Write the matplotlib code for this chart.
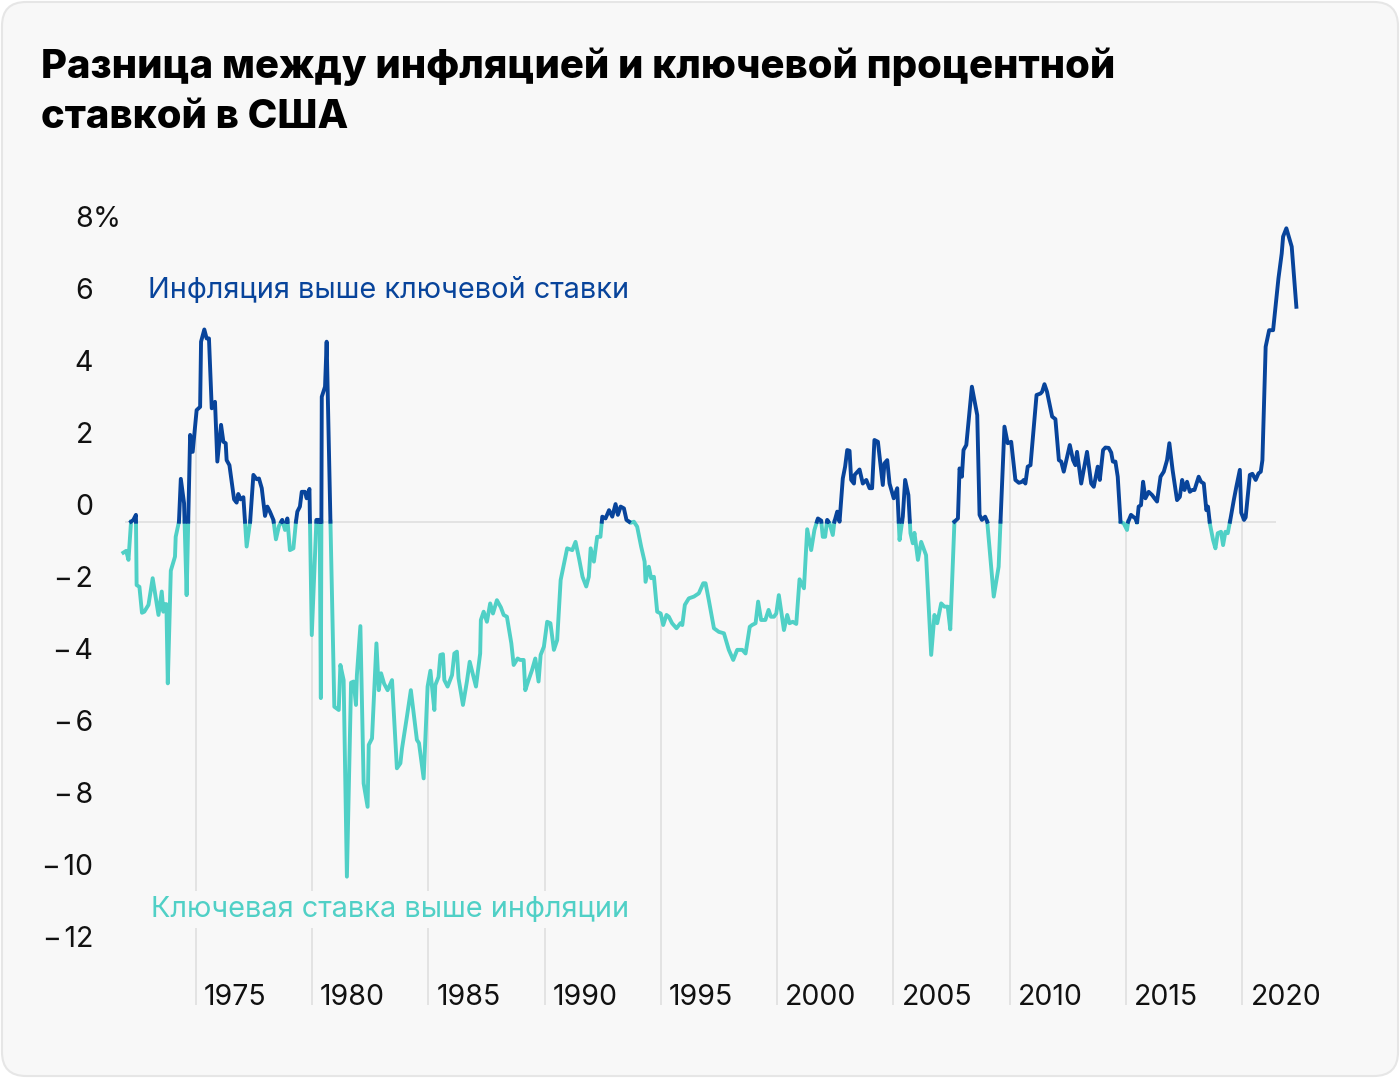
import numpy as np
import matplotlib
matplotlib.use('Agg')
import matplotlib.pyplot as plt
from matplotlib.patches import FancyBboxPatch
from matplotlib.transforms import IdentityTransform

plt.rcParams['font.family'] = ['Inter', 'DejaVu Sans']

TITLE = ['Разница между инфляцией и ключевой процентной', 'ставкой в США']
LABEL_ABOVE = 'Инфляция выше ключевой ставки'
LABEL_BELOW = 'Ключевая ставка выше инфляции'

# inflation minus key rate, percentage points
years = [
    1971.89, 1972.01, 1972.11, 1972.22, 1972.32, 1972.43, 1972.46, 1972.58, 1972.69, 1972.79,
    1972.97, 1973.15, 1973.40, 1973.54, 1973.61, 1973.68, 1973.74, 1973.80, 1973.93, 1974.11,
    1974.14, 1974.28, 1974.36, 1974.50, 1974.61, 1974.76, 1974.87, 1975.04, 1975.19, 1975.23,
    1975.37, 1975.47, 1975.57, 1975.69, 1975.83, 1975.93, 1976.09, 1976.19, 1976.29, 1976.33,
    1976.45, 1976.65, 1976.76, 1976.83, 1976.93, 1977.05, 1977.19, 1977.34, 1977.48, 1977.62,
    1977.72, 1977.84, 1977.98, 1978.08, 1978.19, 1978.34, 1978.45, 1978.58, 1978.72, 1978.84,
    1978.94, 1979.05, 1979.20, 1979.31, 1979.37, 1979.48, 1979.56, 1979.70, 1979.77, 1979.89,
    1979.99, 1980.19, 1980.33, 1980.38, 1980.42, 1980.56, 1980.63, 1980.96, 1981.15, 1981.22,
    1981.36, 1981.50, 1981.68, 1981.79, 1981.89, 1981.93, 1982.08, 1982.22, 1982.39, 1982.44,
    1982.58, 1982.77, 1982.87, 1982.97, 1983.10, 1983.25, 1983.44, 1983.65, 1983.80, 1983.87,
    1984.08, 1984.25, 1984.51, 1984.60, 1984.80, 1984.97, 1985.09, 1985.26, 1985.30, 1985.44,
    1985.52, 1985.63, 1985.69, 1985.83, 1986.02, 1986.12, 1986.23, 1986.30, 1986.49, 1986.66,
    1986.78, 1987.05, 1987.23, 1987.26, 1987.38, 1987.52, 1987.66, 1987.78, 1987.95, 1988.12,
    1988.24, 1988.38, 1988.57, 1988.67, 1988.84, 1988.95, 1989.10, 1989.17, 1989.31, 1989.46,
    1989.60, 1989.74, 1989.83, 1989.97, 1990.11, 1990.25, 1990.40, 1990.54, 1990.69, 1990.97,
    1991.19, 1991.33, 1991.48, 1991.63, 1991.79, 1991.90, 1991.98, 1992.12, 1992.26, 1992.40,
    1992.48, 1992.62, 1992.77, 1992.91, 1993.05, 1993.15, 1993.27, 1993.41, 1993.52, 1993.70,
    1993.84, 1993.98, 1994.15, 1994.30, 1994.34, 1994.48, 1994.58, 1994.70, 1994.84, 1994.99,
    1995.10, 1995.24, 1995.34, 1995.48, 1995.67, 1995.84, 1995.92, 1996.03, 1996.20, 1996.42,
    1996.63, 1996.82, 1996.92, 1997.06, 1997.28, 1997.49, 1997.71, 1997.92, 1998.11, 1998.28,
    1998.50, 1998.64, 1998.82, 1998.92, 1999.07, 1999.18, 1999.31, 1999.49, 1999.63, 1999.73,
    1999.86, 1999.96, 2000.07, 2000.29, 2000.43, 2000.53, 2000.67, 2000.82, 2000.96, 2001.15,
    2001.29, 2001.46, 2001.60, 2001.75, 2001.89, 2001.96, 2002.06, 2002.15, 2002.25, 2002.39,
    2002.46, 2002.58, 2002.68, 2002.82, 2002.92, 2003.01, 2003.11, 2003.18, 2003.30, 2003.33,
    2003.54, 2003.68, 2003.83, 2003.97, 2004.08, 2004.18, 2004.33, 2004.54, 2004.61, 2004.73,
    2004.83, 2005.01, 2005.16, 2005.26, 2005.40, 2005.50, 2005.64, 2005.73, 2005.83, 2005.90,
    2006.05, 2006.19, 2006.40, 2006.62, 2006.76, 2006.88, 2007.05, 2007.19, 2007.33, 2007.44,
    2007.62, 2007.77, 2007.84, 2007.94, 2008.01, 2008.13, 2008.37, 2008.60, 2008.70, 2008.80,
    2008.94, 2009.03, 2009.31, 2009.52, 2009.60, 2009.77, 2009.91, 2010.06, 2010.24, 2010.39,
    2010.53, 2010.60, 2010.67, 2010.77, 2010.89, 2011.00, 2011.15, 2011.32, 2011.39, 2011.49,
    2011.60, 2011.82, 2011.96, 2012.11, 2012.21, 2012.32, 2012.58, 2012.72, 2012.82, 2012.89,
    2013.07, 2013.15, 2013.32, 2013.50, 2013.61, 2013.78, 2013.87, 2014.01, 2014.11, 2014.25,
    2014.36, 2014.43, 2014.54, 2014.64, 2014.76, 2014.90, 2015.04, 2015.09, 2015.21, 2015.30,
    2015.40, 2015.47, 2015.54, 2015.64, 2015.73, 2015.83, 2015.97, 2016.12, 2016.22, 2016.33,
    2016.48, 2016.62, 2016.76, 2016.86, 2017.00, 2017.19, 2017.31, 2017.41, 2017.51, 2017.62,
    2017.74, 2017.84, 2017.94, 2018.12, 2018.22, 2018.34, 2018.45, 2018.52, 2018.60, 2018.74,
    2018.84, 2018.94, 2019.08, 2019.17, 2019.27, 2019.37, 2019.48, 2019.63, 2019.74, 2019.89,
    2019.95, 2020.07, 2020.14, 2020.32, 2020.43, 2020.57, 2020.69, 2020.79, 2020.86, 2021.00,
    2021.15, 2021.32, 2021.55, 2021.69, 2021.75, 2021.89, 2022.12, 2022.32,
]
spread = [
    -0.86, -0.81, -1.06, 0.00, 0.05, 0.19, -1.76, -1.81, -2.53, -2.50,
    -2.31, -1.57, -2.59, -1.94, -2.50, -2.29, -2.29, -4.49, -1.36, -0.97,
    -0.42, 0.00, 1.19, 0.51, -2.04, 2.41, 1.94, 3.10, 3.19, 5.00,
    5.34, 5.09, 5.09, 3.15, 3.33, 1.67, 2.69, 2.22, 2.18, 1.71,
    1.57, 0.62, 0.53, 0.77, 0.62, 0.68, -0.69, 0.00, 1.30, 1.18,
    1.20, 0.93, 0.16, 0.42, 0.28, 0.05, -0.49, -0.12, 0.05, -0.23,
    0.09, -0.79, -0.74, 0.00, 0.28, 0.42, 0.83, 0.83, 0.65, 0.91,
    -3.15, 0.05, 0.05, -4.90, 3.47, 3.75, 5.00, -5.14, -5.23, -3.98,
    -4.40, -9.86, -4.47, -4.44, -5.09, -4.26, -2.90, -7.27, -7.92, -6.20,
    -6.02, -3.38, -4.68, -4.21, -4.50, -4.68, -4.40, -6.85, -6.71, -6.30,
    -5.42, -4.68, -6.06, -6.15, -7.13, -4.58, -4.14, -5.23, -4.54, -4.31,
    -3.70, -3.68, -4.40, -4.58, -4.26, -3.66, -3.61, -4.35, -5.09, -4.44,
    -3.89, -4.58, -3.66, -2.73, -2.50, -2.78, -2.27, -2.55, -2.18, -2.38,
    -2.59, -2.64, -3.38, -3.98, -3.80, -3.84, -3.84, -4.68, -4.40, -4.12,
    -3.80, -4.44, -3.70, -3.47, -2.78, -2.82, -3.56, -3.29, -1.62, -0.74,
    -0.79, -0.56, -1.02, -1.53, -1.80, -1.53, -0.74, -1.11, -0.42, -0.42,
    0.14, 0.09, 0.32, 0.14, 0.49, 0.19, 0.42, 0.37, 0.05, -0.03,
    0.00, -0.14, -0.69, -1.11, -1.67, -1.25, -1.57, -1.53, -2.50, -2.55,
    -2.87, -2.59, -2.64, -2.82, -2.96, -2.82, -2.87, -2.31, -2.13, -2.08,
    -1.99, -1.71, -1.71, -2.18, -2.96, -3.06, -3.10, -3.56, -3.84, -3.56,
    -3.56, -3.66, -2.92, -2.87, -2.82, -2.22, -2.73, -2.73, -2.45, -2.64,
    -2.64, -2.55, -2.04, -3.01, -2.59, -2.82, -2.78, -2.84, -1.60, -1.85,
    -0.21, -0.79, -0.23, 0.09, 0.03, -0.42, -0.42, 0.05, -0.05, -0.37,
    0.00, 0.28, 0.00, 1.20, 1.53, 1.99, 1.97, 1.16, 1.06, 1.30,
    1.45, 1.06, 1.16, 0.93, 0.93, 2.27, 2.22, 1.02, 1.62, 1.71,
    1.06, 0.65, 0.93, -0.51, 0.14, 1.16, 0.74, -0.32, -0.60, -0.31,
    -1.06, -0.56, -0.93, -3.70, -2.59, -2.82, -2.27, -2.36, -2.36, -2.99,
    0.00, 0.09, 1.48, 1.25, 1.99, 2.13, 3.75, 2.96, 0.19, 0.05,
    0.14, 0.00, -2.08, -1.25, 0.00, 2.64, 2.18, 2.22, 1.16, 1.08,
    1.11, 1.16, 1.06, 1.53, 1.57, 2.41, 3.52, 3.56, 3.61, 3.82,
    3.61, 2.92, 2.85, 1.71, 1.67, 1.39, 2.13, 1.71, 1.57, 1.94,
    1.06, 1.34, 1.94, 1.06, 0.97, 1.53, 1.16, 1.99, 2.06, 2.05,
    1.92, 1.67, 1.67, 1.25, 0.00, -0.05, -0.23, 0.00, 0.19, 0.14,
    0.09, -0.03, 0.42, 0.46, 1.11, 0.65, 0.83, 0.74, 0.65, 0.56,
    1.25, 1.39, 1.71, 2.18, 1.43, 0.60, 0.69, 1.16, 0.88, 1.11,
    0.83, 0.88, 0.88, 1.25, 1.11, 1.06, 0.32, 0.42, -0.05, -0.51,
    -0.74, -0.32, -0.28, -0.65, -0.28, -0.32, 0.05, 0.60, 0.97, 1.44,
    0.25, 0.05, 0.12, 1.30, 1.33, 1.16, 1.34, 1.39, 1.71, 4.86,
    5.32, 5.32, 6.76, 7.45, 7.92, 8.15, 7.64, 5.97,
]

tick_years = [1975, 1980, 1985, 1990, 1995, 2000, 2005, 2010, 2015, 2020]
y_ticks = [8, 6, 4, 2, 0, -2, -4, -6, -8, -10, -12]

BLUE = '#08449b'
TEAL = '#50d0c6'
GRID = '#dfdfdf'
BG = '#f8f8f8'

W, H = 1400, 1078
# pixel scale of the reference
PX_1980, PX_PER_YEAR = 312.0, 23.26
PY_ZERO, PX_PER_UNIT = 521.7, 36.0


def t_of(px):
    return 1980 + (px - PX_1980) / PX_PER_YEAR


def v_of(py):
    return (PY_ZERO - py) / PX_PER_UNIT


def split_at_zero(t, v):
    ts, vs = [t[0]], [v[0]]
    for i in range(1, len(t)):
        if v[i - 1] * v[i] < 0:
            tz = t[i - 1] + (t[i] - t[i - 1]) * v[i - 1] / (v[i - 1] - v[i])
            ts.append(tz)
            vs.append(0.0)
        ts.append(t[i])
        vs.append(v[i])
    return np.array(ts), np.array(vs)


fig = plt.figure(figsize=(W / 100, H / 100), dpi=100)
fig.patch.set_facecolor('white')
card = FancyBboxPatch((2, 2), W - 4, H - 4, boxstyle='round,pad=0,rounding_size=24',
                      transform=IdentityTransform(), fc=BG, ec='#e6e6e6', lw=1.5, zorder=-5)
fig.patches.append(card)

left_px, right_px, top_px, bottom_px = 100, 1320, 200, 1010
ax = fig.add_axes([left_px / W, 1 - bottom_px / H, (right_px - left_px) / W, (bottom_px - top_px) / H])
ax.set_xlim(t_of(left_px), t_of(right_px))
ax.set_ylim(v_of(bottom_px), v_of(top_px))
ax.axis('off')

t, v = split_at_zero(years, spread)
y_floor = v_of(1005)

# drop lines from the bottom to the curve at each tick year
ax.vlines(tick_years, y_floor, np.interp(tick_years, t, v), color=GRID, lw=1.2, zorder=1)
ax.hlines(0, t_of(125), t_of(1276), color=GRID, lw=1.2, zorder=1)

ax.plot(t, np.where(v <= 0, v, np.nan), color=TEAL, lw=2.8, zorder=3)
ax.plot(t, np.where(v >= 0, v, np.nan), color=BLUE, lw=2.8, zorder=3)

tick_fs = 20.5
for yr in tick_years:
    ax.text(yr + 8 / PX_PER_YEAR, y_floor, str(yr), fontsize=tick_fs, ha='left', va='baseline', color='#111111')

x_lab = t_of(93)
for yv in y_ticks:
    lab = str(yv).replace('-', '\u2212\u200a')
    ax.text(x_lab, yv + 7 / PX_PER_UNIT, lab, fontsize=tick_fs, ha='right', va='baseline',
            color='#111111', clip_on=False)
    if yv == y_ticks[0]:
        ax.text(x_lab, yv + 7 / PX_PER_UNIT, '%', fontsize=tick_fs, ha='left', va='baseline',
                color='#111111', clip_on=False)

ax.text(t_of(148), v_of(298), LABEL_ABOVE, fontsize=20.8, color=BLUE, ha='left', va='baseline', zorder=4)
ax.text(t_of(151), v_of(917), LABEL_BELOW, fontsize=20.8, color=TEAL, ha='left', va='baseline', zorder=4,
        bbox=dict(fc=BG, ec='none', pad=4))

fig.text(41 / W, 1 - 78 / H, TITLE[0], fontsize=28.8, fontweight='heavy', color='black', va='baseline')
fig.text(41 / W, 1 - 128 / H, TITLE[1], fontsize=28.8, fontweight='heavy', color='black', va='baseline')

fig.savefig('out.png', dpi=100, facecolor='white')
